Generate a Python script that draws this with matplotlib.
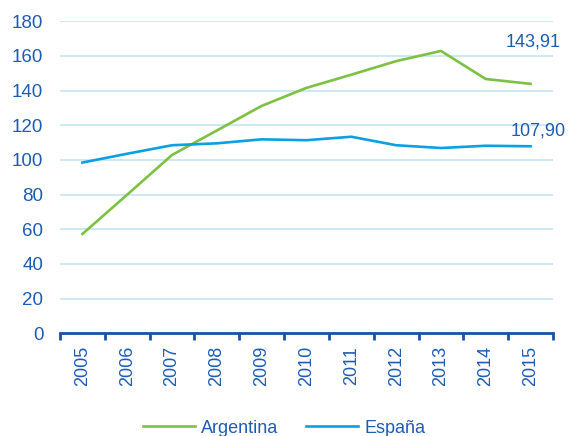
import numpy as np
import matplotlib.pyplot as plt

plt.rcParams['font.family'] = ['Liberation Sans', 'DejaVu Sans']

# datos
anios = ['2005', '2006', '2007', '2008', '2009', '2010', '2011', '2012', '2013', '2014', '2015']
argentina = [57.3, 80.0, 102.9, 117.0, 131.2, 141.6, 149.2, 157.0, 162.9, 146.7, 143.91]
espana = [98.5, 103.6, 108.5, 109.6, 111.9, 111.4, 113.4, 108.5, 106.9, 108.2, 107.90]

verde = '#7dc142'
azul = '#0aa0e2'
texto = '#1c5cb4'
eje = '#1a52a6'
rejilla = '#c3e5f7'

fig = plt.figure(figsize=(5.68, 4.36), dpi=100)
ax = fig.add_axes([60 / 568, 1 - 333.3 / 436, 493 / 568, 312 / 436])

x = np.arange(len(anios))
ax.plot(x, argentina, color=verde, lw=1.9, label='Argentina', zorder=3)
ax.plot(x, espana, color=azul, lw=1.9, label='España', zorder=3)

ax.set_xlim(-0.5, len(anios) - 0.5)
ax.set_ylim(0, 180)
ax.set_yticks(range(0, 181, 20))
ax.grid(axis='y', color=rejilla, lw=1.2)
ax.set_axisbelow(True)

for s in ['top', 'right', 'left']:
    ax.spines[s].set_visible(False)
ax.spines['bottom'].set_color(eje)
ax.spines['bottom'].set_linewidth(2)
ax.spines['bottom'].set_zorder(4)

ax.set_xticks(x)
ax.set_xticklabels(anios, rotation=90)
ax.set_xticks(np.arange(-0.5, len(anios)), minor=True)
ax.tick_params(axis='x', which='major', length=0, pad=9, labelsize=13, labelcolor=texto)
ax.tick_params(axis='x', which='minor', length=5, width=2, color=eje, direction='out')
ax.tick_params(axis='y', length=0, pad=12, labelsize=13.5, labelcolor=texto)

# valores finales
ax.text(len(anios) - 0.34, 168.2, '143,91', ha='right', va='center', fontsize=13, color=texto)
ax.text(len(anios) - 0.22, 116.7, '107,90', ha='right', va='center', fontsize=13, color=texto)

fig.legend(loc='center', bbox_to_anchor=(0.5, 0.018), ncol=2, frameon=False,
           fontsize=13, handlelength=2.9, handletextpad=0.35, columnspacing=1.5,
           labelcolor=texto)

fig.savefig('out.png', dpi=100)
